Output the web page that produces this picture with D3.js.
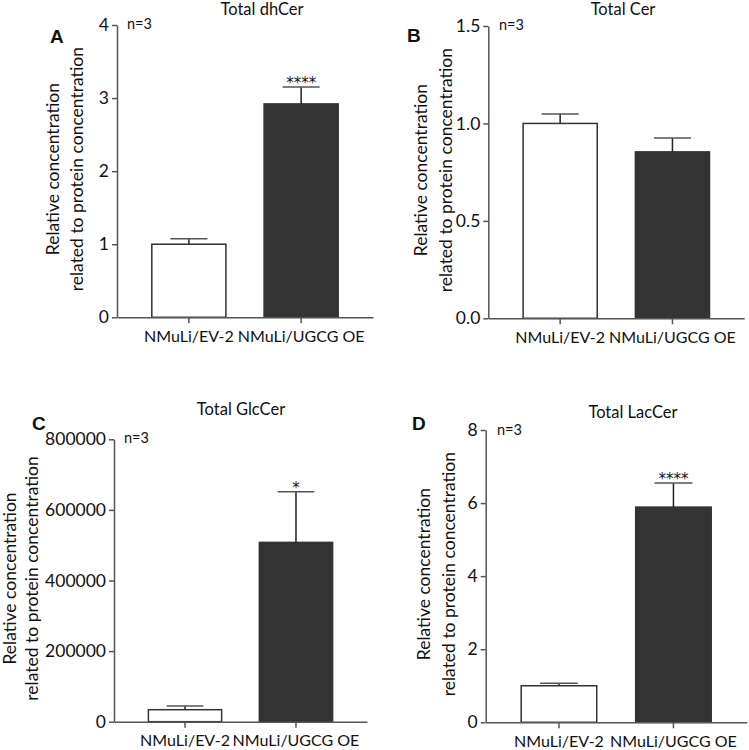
<!DOCTYPE html>
<html>
<head>
<meta charset="utf-8">
<script src="https://cdn.jsdelivr.net/npm/d3@7"></script>
<style>
  body { margin: 0; background: #fff; }
  text { font-family: Lato, "Open Sans", sans-serif; fill: #111; }
</style>
</head>
<body>
<script>
const groups = ["NMuLi/EV-2", "NMuLi/UGCG OE"];
const titles = ["Total dhCer", "Total Cer", "Total GlcCer", "Total LacCer"];
const letters = ["A", "B", "C", "D"];
const means = [[1.0, 2.92], [1.0, 0.854], [34000, 508000], [1.0, 5.89]];
const sems = [[0.075, 0.23], [0.049, 0.071], [10500, 143600], [0.067, 0.66]];
const yMax = [4, 1.5, 800000, 8];
const yTicks = [[0, 1, 2, 3, 4], [0, 0.5, 1, 1.5], [0, 200000, 400000, 600000, 800000], [0, 2, 4, 6, 8]];
const yFormats = ["d", ".1f", "d", "d"];
const stars = ["****", "", "*", "****"];

// panel placement (pixels)
const panels = [
  { x0: 117, y0: 317.3, top: 25, w: 256, titleX: 262, titleY: 15, letX: 50, letY: 43, nX: 127, nY: 29, labX: 59, lab2X: 83 },
  { x0: 488.3, y0: 318.3, top: 26, w: 256, titleX: 623, titleY: 15, letX: 407, letY: 42, nX: 499, nY: 30, labX: 427, lab2X: 452 },
  { x0: 114, y0: 721.7, top: 439.3, w: 253, titleX: 241, titleY: 415, letX: 32, letY: 430, nX: 124, nY: 443, labX: 16, lab2X: 38 },
  { x0: 485.7, y0: 722.3, top: 430, w: 261, titleX: 633, titleY: 418, letX: 412, letY: 430, nX: 497, nY: 435, labX: 430, lab2X: 455 }
];

const svg = d3.select("body").append("svg")
  .attr("width", 749)
  .attr("height", 750);

panels.forEach((p, i) => {
  const g = svg.append("g");

  const x = d3.scaleBand()
    .domain(groups)
    .range([p.x0, p.x0 + p.w])
    .paddingInner(0.34)
    .paddingOuter(0.31);

  const y = d3.scaleLinear()
    .domain([0, yMax[i]])
    .range([p.y0, p.top]);

  const data = groups.map((grp, j) => ({ grp: grp, v: means[i][j], e: sems[i][j], j: j }));

  // bars
  g.selectAll(".bar")
    .data(data)
    .enter()
    .append("rect")
    .attr("x", d => x(d.grp))
    .attr("y", d => y(d.v))
    .attr("width", x.bandwidth())
    .attr("height", d => y(0) - y(d.v))
    .attr("fill", d => d.j === 0 ? "#ffffff" : "#333333")
    .attr("stroke", "#333")
    .attr("stroke-width", 1.5);

  // error bars (upper only)
  g.selectAll(".err")
    .data(data)
    .enter()
    .append("line")
    .attr("x1", d => x(d.grp) + x.bandwidth() / 2)
    .attr("x2", d => x(d.grp) + x.bandwidth() / 2)
    .attr("y1", d => y(d.v))
    .attr("y2", d => y(d.v + d.e))
    .attr("stroke", "#222")
    .attr("stroke-width", 1.5);

  g.selectAll(".cap")
    .data(data)
    .enter()
    .append("line")
    .attr("x1", d => x(d.grp) + x.bandwidth() / 4)
    .attr("x2", d => x(d.grp) + x.bandwidth() * 3 / 4)
    .attr("y1", d => y(d.v + d.e))
    .attr("y2", d => y(d.v + d.e))
    .attr("stroke", "#555")
    .attr("stroke-width", 1.5);

  // significance stars
  g.append("text")
    .attr("x", x(groups[1]) + x.bandwidth() / 2)
    .attr("y", y(data[1].v + data[1].e) + 1)
    .attr("text-anchor", "middle")
    .style("font-family", "'DejaVu Sans', sans-serif")
    .style("font-size", "15px")
    .text(stars[i]);

  // axes
  const yAxis = d3.axisLeft(y)
    .tickValues(yTicks[i])
    .tickFormat(d3.format(yFormats[i]))
    .tickSize(5)
    .tickSizeOuter(0)
    .tickPadding(3);

  const xAxis = d3.axisBottom(x)
    .tickSize(6)
    .tickSizeOuter(0)
    .tickPadding(7);

  const ya = g.append("g")
    .attr("transform", `translate(${p.x0},0)`)
    .call(yAxis);
  const xa = g.append("g")
    .attr("transform", `translate(0,${p.y0})`)
    .call(xAxis);

  [ya, xa].forEach(a => {
    a.select(".domain").attr("stroke", "#555").attr("stroke-width", 1.5);
    a.selectAll(".tick line").attr("stroke", "#555").attr("stroke-width", 1.5);
    a.selectAll(".tick text")
      .style("font-family", "Lato, sans-serif")
      .attr("fill", "#111");
  });
  ya.selectAll(".tick text").style("font-size", "17.5px");
  xa.selectAll(".tick text").style("font-size", "16px");

  // title
  g.append("text")
    .attr("x", p.titleX)
    .attr("y", p.titleY)
    .attr("text-anchor", "middle")
    .style("font-size", "16.5px")
    .text(titles[i]);

  // panel letter
  g.append("text")
    .attr("x", p.letX)
    .attr("y", p.letY)
    .style("font-family", "'Liberation Sans', Arial, sans-serif")
    .style("font-weight", "bold")
    .style("font-size", "19px")
    .text(letters[i]);

  // n
  g.append("text")
    .attr("x", p.nX)
    .attr("y", p.nY)
    .style("font-size", "14.5px")
    .text("n=3");

  // y label
  const cy = (p.y0 + p.top) / 2 - 2;
  g.append("text")
    .attr("transform", `translate(${p.labX},${cy}) rotate(-90)`)
    .attr("text-anchor", "middle")
    .style("font-size", "17.5px")
    .text("Relative concentration");
  g.append("text")
    .attr("transform", `translate(${p.lab2X},${cy}) rotate(-90)`)
    .attr("text-anchor", "middle")
    .style("font-size", "17.5px")
    .text("related to protein concentration");
});
</script>
</body>
</html>
